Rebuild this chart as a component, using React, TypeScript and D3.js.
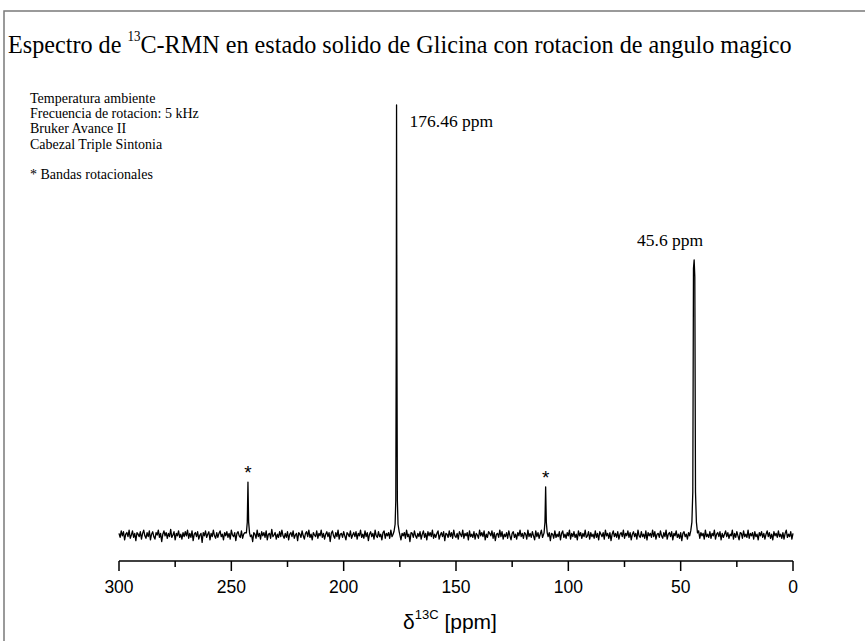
import * as d3 from "d3";

// chemical shift axis
const xDomain = [300, 0];
const majorTicks = [300, 250, 200, 150, 100, 50, 0];
const minorTicks = [275, 225, 175, 125, 75, 25];

// baseline noise, one value every 0.5 ppm from 300 down to 0
const noise = [
  2,-3,5,-1,4,-6,1,3,-2,6,-4,0,5,-3,2,-7,3,1,-2,4,-5,2,6,-1,-4,3,-2,5,-6,1,
  4,-2,-5,3,0,6,-3,2,-8,1,5,-1,3,-4,2,-2,7,-3,0,4,-6,2,-1,5,-3,1,-5,3,-2,4,
  -1,6,-4,2,-3,5,-7,1,3,-2,4,-5,0,2,-9,3,-1,5,-3,1,4,-6,2,-2,6,-1,-4,3,-3,2,
  5,-2,1,-6,3,-1,4,-3,2,-5,6,0,-2,3,-7,2,4,-1,-3,5,-4,1,3,-6,2,-1,5,-2,0,-8,
  3,1,-4,6,-2,2,-5,4,-1,3,-3,5,-6,1,2,-4,7,-2,0,3,-5,1,-3,4,-2,6,-1,-4,2,-3,
  4,-6,1,3,-2,5,-4,0,2,-7,3,1,-3,5,-1,-5,2,4,-2,6,-3,1,-6,3,0,-2,5,-4,2,-1,
  6,-3,2,-5,1,4,-2,3,-8,2,5,-1,-4,3,-2,6,-5,1,2,-3,4,-1,-6,3,1,-2,5,-4,0,3,
  -2,4,-5,2,-1,6,-3,1,-4,5,-2,3,-7,1,4,-2,2,-5,6,-1,-3,4,-2,1,-6,3,5,-4,2,-1,
  3,-4,6,-2,1,-5,2,4,-3,0,5,-6,2,-1,3,-4,6,-2,1,-8,3,2,-3,5,-1,-4,2,-2,4,-5,
  1,5,-3,2,-6,4,-1,3,-2,6,-4,1,-3,2,5,-5,0,3,-2,4,-7,2,1,-3,5,-2,3,-4,6,-1,
  -3,2,-5,4,1,-2,6,-4,2,-1,3,-6,5,-2,1,-3,4,-5,2,0,-4,6,-1,3,-2,5,-6,1,-3,4,
  2,-1,5,-4,3,-7,1,2,-3,6,-2,4,-5,1,-2,3,-4,5,-1,-6,2,4,-3,1,-5,3,-1,6,-2,2,
  -4,3,1,-5,6,-2,2,-3,4,-1,-6,5,-2,3,-4,1,6,-3,2,-5,0,4,-2,3,-7,2,1,-4,5,-3,
  1,-2,4,-6,2,5,-3,1,-4,3,-1,6,-5,2,-2,4,-3,1,-6,5,-1,3,-4,2,-2,6,-3,-1,4,-5,
  3,-2,1,-4,5,-3,2,-6,4,1,-2,3,-5,6,-1,2,-4,3,-7,1,5,-2,2,-3,4,-5,1,3,-2,6,
  -4,2,-1,5,-3,3,-6,1,4,-2,2,-5,6,-1,-3,4,-2,1,-4,5,-6,3,-1,2,-3,6,-2,4,-5,1,
  2,-3,5,-1,-4,3,-2,6,-5,1,3,-2,4,-6,2,-1,5,-3,1,-4,3,-7,2,4,-2,1,-5,3,-1,5,
  -2,4,-3,1,-6,2,5,-4,3,-1,2,-5,6,-2,1,-3,4,-4,2,-1,6,-5,1,3,-2,4,-6,2,-3,1,
  5,-2,3,-4,1,-1,6,-5,2,-3,4,-1,-6,3,2,-4,5,-2,1,-3,6,-4,2,-1,3,-5,4,-2,1,-6,
  3,-1,4,-3,2,-5,1,5,-2,3,-4,1,-6,4,-1,2,-3,5,-2,1,-4,3,-5,2,6,-3,1,-2,4,-5,
  2,
];

// peak profiles [ppm, intensity]
const peakMain: [number, number][] = [
  [177.6, 0.8], [177.1, 2.5], [176.8, 8], [176.6, 45], [176.46, 100],
  [176.3, 45], [176.1, 8], [175.8, 2.5], [175.3, 0.8],
];
const peakCH2: [number, number][] = [
  [45.5, 1], [45.0, 3], [44.6, 10], [44.3, 62], [44.0, 64],
  [43.7, 60], [43.4, 10], [43.0, 3], [42.5, 0.5],
];
const sideband1: [number, number][] = [
  [243.3, 0.5], [242.9, 3], [242.6, 12.3], [242.3, 3], [241.9, 0.5],
];
const sideband2: [number, number][] = [
  [110.8, 0.5], [110.4, 3], [110.1, 11.2], [109.8, 3], [109.4, 0.5],
];

const peakLabels = [
  { ppm: 176.46, top: 100, text: "176.46 ppm" },
  { ppm: 44.0, top: 64, text: "45.6 ppm" },
];
const sidebandMarks = [
  { ppm: 242.6, top: 12.3 },
  { ppm: 110.1, top: 11.2 },
];

const notes = [
  "Temperatura ambiente",
  "Frecuencia de rotacion: 5 kHz",
  "Bruker Avance II",
  "Cabezal Triple Sintonia",
  "",
  "* Bandas rotacionales",
];

export default function App() {
  const width = 865;
  const height = 641;
  const axisY = 561;

  const x = d3.scaleLinear().domain(xDomain).range([119, 793]);
  const y = d3.scaleLinear().domain([0, 100]).range([535, 105]);

  const peaks = [peakMain, peakCH2, sideband1, sideband2];
  const pts: [number, number][] = [];
  noise.forEach((v, i) => {
    const ppm = 300 - i * 0.5;
    const inside = peaks.some((p) => ppm <= p[0][0] + 0.3 && ppm >= p[p.length - 1][0] - 0.3);
    if (!inside) pts.push([ppm, v * 0.19]);
  });
  peaks.forEach((p) => p.forEach((d) => pts.push(d)));
  pts.sort((a, b) => b[0] - a[0]);

  const line = d3.line<[number, number]>()
    .x((d) => x(d[0]))
    .y((d) => y(d[1]));

  const serif = "'Liberation Serif', 'Times New Roman', serif";
  const sans = "'Liberation Sans', Arial, sans-serif";

  return (
    <svg width={width} height={height} style={{ position: "absolute", left: 0, top: 0, background: "#fff" }}>
      <rect x={4} y={11} width={900} height={700} fill="none" stroke="#7a7a7a" strokeWidth={1.5} />

      <g transform="translate(8,53) scale(0.93,1)">
        <text x={0} y={0} fontFamily={serif} fontSize={26} fill="#000">
          Espectro de <tspan fontSize={14} dy={-12}>13</tspan>
          <tspan dy={12}>C-RMN en estado solido de Glicina con rotacion de angulo magico</tspan>
        </text>
      </g>

      {notes.map((n, i) => (
        <text key={i} x={30} y={103 + i * 15.2} fontFamily={serif} fontSize={14} fill="#000">
          {n}
        </text>
      ))}

      <path d={line(pts) ?? ""} fill="none" stroke="#000" strokeWidth={1.3} strokeLinejoin="round" />

      {peakLabels.map((p) =>
        p.ppm > 100 ? (
          <text key={p.text} x={x(p.ppm) + 13} y={y(p.top) + 22} fontFamily={serif} fontSize={17.5}>
            {p.text}
          </text>
        ) : (
          <text key={p.text} x={x(p.ppm) - 24} y={y(p.top) - 14} fontFamily={serif} fontSize={17.5} textAnchor="middle">
            {p.text}
          </text>
        )
      )}

      {sidebandMarks.map((s) => (
        <text key={s.ppm} x={x(s.ppm)} y={y(s.top) - 3} fontFamily={sans} fontSize={19} textAnchor="middle">
          *
        </text>
      ))}

      <line x1={x(300)} x2={x(0)} y1={axisY} y2={axisY} stroke="#000" strokeWidth={1.5} />
      {majorTicks.map((t) => (
        <g key={t}>
          <line x1={x(t)} x2={x(t)} y1={axisY} y2={axisY + 10} stroke="#000" strokeWidth={1.5} />
          <text x={x(t)} y={axisY + 32} fontFamily={sans} fontSize={17.5} textAnchor="middle">
            {t}
          </text>
        </g>
      ))}
      {minorTicks.map((t) => (
        <line key={t} x1={x(t)} x2={x(t)} y1={axisY} y2={axisY + 6} stroke="#000" strokeWidth={1.5} />
      ))}

      <text x={(x(300) + x(0)) / 2 - 6} y={629} fontFamily={sans} fontSize={21} textAnchor="middle">
        δ<tspan fontSize={13} dy={-10}>13C</tspan>
        <tspan dy={10}> [ppm]</tspan>
      </text>
    </svg>
  );
}
